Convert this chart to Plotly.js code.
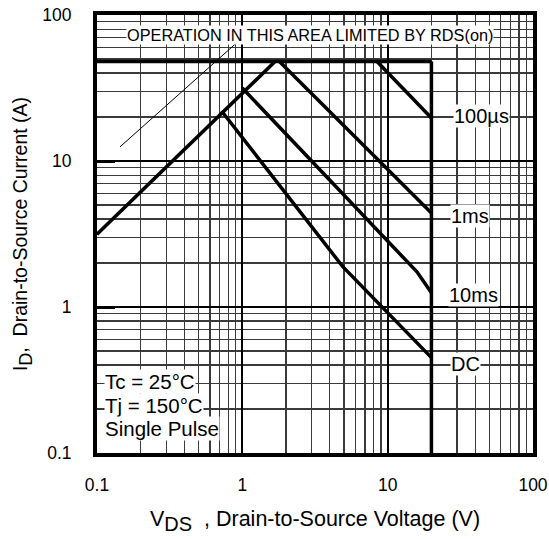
<!DOCTYPE html>
<html>
<head>
<meta charset="utf-8">
<script src="https://cdn.plot.ly/plotly-3.0.1.min.js"></script>
<style>html,body{margin:0;padding:0;background:#fff;}#chart{width:549px;height:539px;}</style>
</head>
<body>
<div id="chart"></div>
<script>
// ---- data ----
const rdsLimitV = [0.1, 1.68];
const rdsLimitI = [3.15, 48];
const currentLimitV = [0.1, 20];
const currentLimitI = [48, 48];
const vdssLimitV = [20, 20];
const vdssLimitI = [48, 0.1];
const us100V = [8.45, 20];
const us100I = [48, 19.7];
const ms1V = [1.8, 20];
const ms1I = [48, 4.4];
const ms10V = [1.0, 15.9, 20];
const ms10I = [31.6, 1.74, 1.25];
const dcV = [0.72, 4.93, 20];
const dcI = [22, 1.88, 0.45];
const pointerV = [0.144, 0.906];
const pointerI = [12.5, 64];
const tickVals = [0.1, 1, 10, 100];
const tickText = ["0.1", "1", "10", "100"];
const curveLabels = ["100\u00b5s", "1ms", "10ms", "DC"];
const conditionLabels = ["Tc = 25\u00b0C", "Tj = 150\u00b0C", "Single Pulse"];

const FONT = "Liberation Sans, Arial, Helvetica, sans-serif";
const thick = {color: "#000", width: 3.5};
function seg(x, y, line) {
  return {type: "scatter", mode: "lines", x: x, y: y, line: line, hoverinfo: "skip", showlegend: false};
}
const traces = [
  seg(pointerV, pointerI, {color: "#000", width: 1}),
  seg(rdsLimitV, rdsLimitI, thick),
  seg(currentLimitV, currentLimitI, thick),
  seg(vdssLimitV, vdssLimitI, thick),
  seg(us100V, us100I, thick),
  seg(ms1V, ms1I, thick),
  seg(ms10V, ms10I, thick),
  seg(dcV, dcI, thick)
];

// pixel helpers for label placement (plot area 97..533 x 15..453)
const px2x = p => -1 + (p - 97) / 145.33;
const px2y = p => 2 - (p - 15) / 146;

const labelPos = [[481, 116], [470, 216], [473, 295], [465, 364]];
const annotations = [];
curveLabels.forEach((t, i) => {
  annotations.push({text: t, xref: "x", yref: "y", x: px2x(labelPos[i][0]), y: px2y(labelPos[i][1]),
    showarrow: false, bgcolor: "#fff", borderpad: 0, font: {family: FONT, size: 20, color: "#000"}});
});
const condY = [381, 405, 428];
conditionLabels.forEach((t, i) => {
  annotations.push({text: t, xref: "x", yref: "y", x: px2x(104), y: px2y(condY[i]), xanchor: "left",
    showarrow: false, bgcolor: "#fff", borderpad: 0, font: {family: FONT, size: 20.5, color: "#000"}});
});
annotations.push({text: "OPERATION IN THIS AREA LIMITED BY RDS(on)", xref: "x", yref: "y",
  x: px2x(310), y: px2y(35), showarrow: false, bgcolor: "#fff", borderpad: 0,
  font: {family: FONT, size: 16.3, color: "#000"}});

const axisCommon = {
  type: "log", showline: true, mirror: true, linewidth: 4, linecolor: "#000",
  showgrid: true, gridcolor: "#000", gridwidth: 2, zeroline: false,
  tickmode: "array", tickvals: tickVals, ticktext: tickText,
  tickfont: {family: FONT, size: 17.5, color: "#000"},
  minor: {dtick: "D1", showgrid: true, gridcolor: "#3a3a3a", gridwidth: 1.3, ticks: ""}
};
const layout = {
  width: 549, height: 539,
  margin: {l: 97, r: 16, t: 15, b: 86},
  paper_bgcolor: "#fff", plot_bgcolor: "#fff",
  showlegend: false,
  xaxis: Object.assign({}, axisCommon, {
    range: [-1, 2], ticks: "", ticklabelstandoff: 13,
    title: {text: "V<sub><span style='font-size:20px'>DS</span></sub>  , Drain-to-Source Voltage (V)", standoff: 18,
      font: {family: FONT, size: 21.5, color: "#000"}}
  }),
  yaxis: Object.assign({}, axisCommon, {
    range: [-1, 2], ticks: "inside", ticklen: 18, tickwidth: 3, tickcolor: "#000",
    ticklabelstandoff: 18,
    title: {text: "I<sub><span style='font-size:18px'>D</span></sub>,  Drain-to-Source Current (A)", standoff: 10,
      font: {family: FONT, size: 19.5, color: "#000"}}
  }),
  annotations: annotations
};
Plotly.newPlot("chart", traces, layout, {displayModeBar: false, staticPlot: true});
</script>
</body>
</html>
